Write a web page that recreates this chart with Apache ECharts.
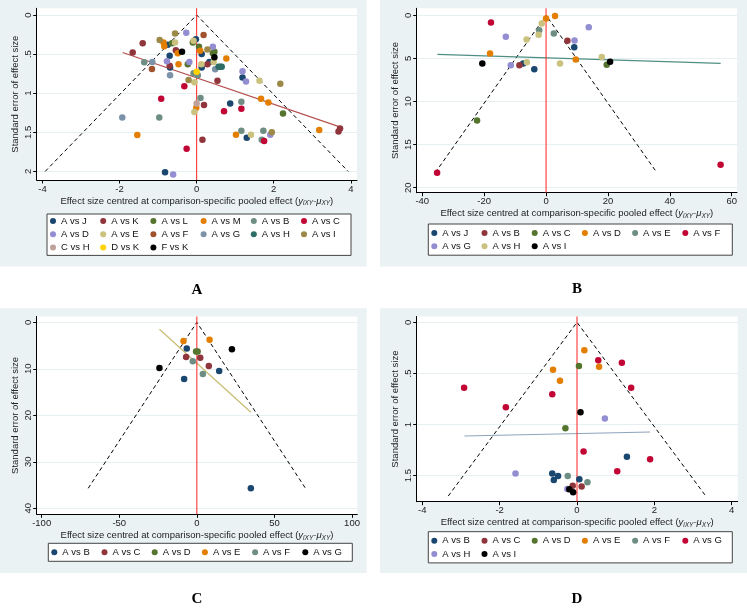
<!DOCTYPE html>
<html>
<head>
<meta charset="utf-8">
<script src="https://cdn.jsdelivr.net/npm/echarts@6.0.0/dist/echarts.min.js"></script>
<style>
  html, body { margin: 0; padding: 0; background: #fff; }
  #display { width: 747px; height: 611px; }
</style>
</head>
<body>
<div id="display"></div>
<script>
// ---- data: [effect centred, standard error] ----

// panel A
var namesA = ['A vs J', 'A vs K', 'A vs L', 'A vs M', 'A vs B', 'A vs C', 'A vs D', 'A vs E', 'A vs F', 'A vs G', 'A vs H', 'A vs I', 'C vs H', 'D vs K', 'F vs K'];
var a_AJ = [[-0.02, 0.31], [-0.75, 0.38], [-0.70, 0.52], [0.13, 0.50], [-0.69, 0.67], [0.33, 0.60], [0.13, 0.67], [1.19, 0.80], [0.87, 1.13], [1.30, 1.57], [-0.82, 2.01]];
var a_AK = [[-1.40, 0.36], [-0.54, 0.45], [-1.66, 0.48], [-0.70, 0.65], [0.28, 0.63], [0.54, 0.84], [0.19, 1.15], [0.15, 1.595], [3.68, 1.49], [3.72, 1.45]];
var a_AL = [[-0.64, 0.36], [-0.10, 0.35], [0.06, 0.405], [0.42, 0.49], [0.46, 0.47], [-0.23, 0.63], [2.24, 1.26]];
var a_AM = [[-0.86, 0.35], [-0.84, 0.40], [-0.49, 0.49], [0.09, 0.456], [0.77, 0.555], [-0.47, 0.63], [-0.01, 1.185], [1.67, 1.07], [1.86, 1.12], [-1.54, 1.535], [1.02, 1.53], [3.18, 1.47]];
var a_AB = [[-1.36, 0.605], [-0.08, 0.745], [0.03, 0.77], [0.10, 1.06], [1.16, 1.11], [-0.97, 1.31], [1.16, 1.48], [1.73, 1.48], [1.69, 1.595]];
var a_AC = [[-0.32, 0.91], [-0.92, 1.07], [1.16, 1.20], [0.71, 1.23], [1.75, 1.61], [-0.26, 1.71]];
var a_AD = [[-0.27, 0.226], [0.42, 0.405], [-0.77, 0.59], [-0.19, 0.60], [1.19, 0.72], [1.28, 0.85], [1.91, 1.53], [-0.61, 2.04]];
var a_AE = [[-0.56, 0.35], [-0.08, 0.33], [0.12, 0.63], [0.44, 0.60], [-0.06, 0.86], [1.63, 0.84], [-0.06, 1.24], [1.41, 1.53]];
var a_AF = [[0.18, 0.256], [-1.16, 0.69]];
var a_AG = [[-1.15, 0.60], [0.48, 0.695], [-0.69, 0.77], [-1.93, 1.31]];
var a_AH = [[0.57, 0.66], [0.62, 0.66], [0.65, 0.66]];
var a_AI = [[-0.56, 0.235], [-0.96, 0.32], [0.28, 0.44], [-0.21, 0.83], [2.17, 0.88], [1.95, 1.50]];
var a_CH = [[0.0, 1.13]];
var a_DK = [[0.0, 0.725]];
var a_FK = [[-0.38, 0.47], [0.46, 0.54]];
var funnelA = [[-3.93, 2.0], [0, 0], [3.93, 2.0]];
var fitA = [[-1.92, 0.48], [3.77, 1.44]];

// panel B
var namesB = ['A vs J', 'A vs B', 'A vs C', 'A vs D', 'A vs E', 'A vs F', 'A vs G', 'A vs H', 'A vs I'];
var b_AJ = [[9.1, 3.7], [-7.4, 5.58], [-3.8, 6.27]];
var b_AB = [[6.9, 2.96], [-8.6, 5.81]];
var b_AC = [[19.6, 5.73], [-22.3, 12.2]];
var b_AD = [[0.0, 0.38], [2.9, 0.08], [-18.1, 4.42], [9.6, 5.12]];
var b_AE = [[-2.2, 1.73], [2.5, 2.1]];
var b_AF = [[-17.8, 0.85], [-35.2, 18.27], [56.4, 17.35]];
var b_AG = [[-13.0, 2.5], [13.8, 1.38], [9.2, 2.92], [-11.4, 5.81]];
var b_AH = [[-1.4, 0.96], [-2.4, 2.27], [-6.3, 2.8], [18.0, 4.85], [-6.2, 5.46], [4.5, 5.58]];
var b_AI = [[20.7, 5.38], [-20.6, 5.58]];
var funnelB = [[-35.8, 18.25], [0, 0], [35.8, 18.25]];
var fitB = [[-35.1, 4.54], [56.4, 5.58]];

// panel C
var namesC = ['A vs B', 'A vs C', 'A vs D', 'A vs E', 'A vs F', 'A vs G'];
var c_AB = [[-6.5, 5.66], [14.4, 10.47], [-8.2, 12.2], [34.8, 35.7]];
var c_AC = [[-6.9, 7.46], [2.2, 7.6], [7.7, 9.4]];
var c_AD = [[-0.5, 6.3], [0.5, 6.3]];
var c_AE = [[-8.6, 4.0], [8.2, 3.73]];
var c_AF = [[-2.6, 8.4], [3.9, 11.1]];
var c_AG = [[22.6, 5.8], [-24.1, 9.82]];
var funnelC = [[-70, 35.7], [0, 0], [70, 35.7]];
var fitC = [[-24.1, 1.5], [34.8, 19.35]];

// panel D
var namesD = ['A vs B', 'A vs C', 'A vs D', 'A vs E', 'A vs F', 'A vs G', 'A vs H', 'A vs I'];
var d_AB = [[1.29, 1.314], [-0.64, 1.48], [-0.49, 1.503], [-0.60, 1.542], [0.06, 1.536]];
var d_AC = [[-0.11, 1.60], [0.12, 1.607]];
var d_AD = [[0.05, 0.427], [-0.30, 1.037]];
var d_AE = [[0.19, 0.274], [0.57, 0.434], [-0.62, 0.463], [-0.44, 0.571]];
var d_AF = [[-0.24, 1.503], [0.27, 1.565]];
var d_AG = [[0.55, 0.372], [1.16, 0.395], [1.40, 0.639], [-2.92, 0.639], [-0.64, 0.704], [-1.84, 0.831], [0.17, 1.265], [1.89, 1.34], [1.04, 1.457]];
var d_AH = [[0.72, 0.942], [-1.59, 1.48], [-0.25, 1.63]];
var d_AI = [[0.09, 0.88], [-0.20, 1.634], [-0.10, 1.663]];
var funnelD = [[-3.33, 1.70], [0, 0], [3.33, 1.70]];
var fitD = [[-2.91, 1.112], [1.89, 1.073]];

// tick labels
var xTicksA = [-4, -2, 0, 2, 4];
var yTicksA = [0, 0.5, 1, 1.5, 2];
var xTicksB = [-40, -20, 0, 20, 40, 60];
var yTicksB = [0, 5, 10, 15, 20];
var xTicksC = [-100, -50, 0, 50, 100];
var yTicksC = [0, 10, 20, 30, 40];
var xTicksD = [-4, -2, 0, 2, 4];
var yTicksD = [0, 0.5, 1, 1.5];

// Stata s2color palette
var navy = '#1a476f', maroon = '#90353b', forest = '#55752f', dkorange = '#e37e00',
    teal = '#6e8e84', cranberry = '#c10534', lavender = '#938dd2', khaki = '#cac27e',
    sienna = '#a0522d', emidblue = '#7b92a8', emerald = '#2d6d66', brown = '#9c8847',
    erose = '#bfa19c', gold = '#ffd200', black = '#000000';

var FONT = '"Liberation Sans", Arial, sans-serif';

var panels = [
    {
        key: 'A', names: namesA,
        groups: [a_AJ, a_AK, a_AL, a_AM, a_AB, a_AC, a_AD, a_AE, a_AF, a_AG, a_AH, a_AI, a_CH, a_DK, a_FK],
        colors: [navy, maroon, forest, dkorange, teal, cranberry, lavender, khaki, sienna, emidblue, emerald, brown, erose, gold, black],
        funnel: funnelA, fit: fitA, fitColor: '#b5514f',
        xTicks: xTicksA, yTicks: yTicksA,
        grid: { left: 36.7, top: 8.3, width: 320.3, height: 171.7 },
        x: [-4.15, 4.16], y: [-0.086, 2.11],
        legend: { left: 47, top: 214, padding: [2, 3, 3, 3] }
    },
    {
        key: 'B', names: namesB,
        groups: [b_AJ, b_AB, b_AC, b_AD, b_AE, b_AF, b_AG, b_AH, b_AI],
        colors: [navy, maroon, forest, dkorange, teal, cranberry, lavender, khaki, black],
        funnel: funnelB, fit: fitB, fitColor: '#4f8f82',
        xTicks: xTicksB, yTicks: yTicksB,
        grid: { left: 416.7, top: 8.3, width: 320.3, height: 184.4 },
        x: [-41.8, 61.7], y: [-0.81, 20.58],
        legend: { left: 428.3, top: 224, padding: [4, 3, 4, 3] }
    },
    {
        key: 'C', names: namesC,
        groups: [c_AB, c_AC, c_AD, c_AE, c_AF, c_AG],
        colors: [navy, maroon, forest, dkorange, teal, black],
        funnel: funnelC, fit: fitC, fitColor: '#c8bc72',
        xTicks: xTicksC, yTicks: yTicksC,
        grid: { left: 36.7, top: 316.5, width: 320.6, height: 197.8 },
        x: [-103.2, 103.4], y: [-1.25, 41.3],
        legend: { left: 48.3, top: 543.3, padding: [4, 3, 4, 3] }
    },
    {
        key: 'D', names: namesD,
        groups: [d_AB, d_AC, d_AD, d_AE, d_AF, d_AG, d_AH, d_AI],
        colors: [navy, maroon, forest, dkorange, teal, cranberry, lavender, black],
        funnel: funnelD, fit: fitD, fitColor: '#8ea4bc',
        xTicks: xTicksD, yTicks: yTicksD,
        grid: { left: 416.7, top: 316.5, width: 321, height: 185.2 },
        x: [-4.145, 4.155], y: [-0.057, 1.755],
        legend: { left: 428.3, top: 531.7, padding: [4, 3, 4, 3] }
    }
];

// ".5" instead of "0.5", the way Stata writes it
function tickText(v) {
    var s = String(v);
    if (v > 0 && v < 1) s = s.substring(1);
    return s;
}

var grids = [], xAxes = [], yAxes = [], legends = [], series = [];

panels.forEach(function (p, gi) {
    grids.push(Object.assign({ show: true, backgroundColor: '#ffffff', borderWidth: 0 }, p.grid));

    xAxes.push({
        gridIndex: gi, type: 'value', min: p.x[0], max: p.x[1],
        axisLine: { show: true, onZero: false, lineStyle: { color: '#000', width: 1 } },
        axisTick: { show: true, length: 3.5, customValues: p.xTicks, lineStyle: { color: '#000' } },
        axisLabel: { customValues: p.xTicks, margin: 4, fontSize: 9.5, color: '#222', fontFamily: FONT, formatter: tickText },
        splitLine: { show: false },
        name: 'Effect size centred at comparison-specific pooled effect ({it|y}{sub|iXY}{it|-μ}{sub|XY})',
        nameLocation: 'middle', nameGap: 14,
        nameTextStyle: {
            fontSize: 9.5, color: '#222', fontFamily: FONT, lineHeight: 12,
            rich: {
                it: { fontSize: 9.5, fontStyle: 'italic', color: '#222', fontFamily: FONT },
                sub: { fontSize: 6.5, fontStyle: 'italic', color: '#222', fontFamily: FONT, verticalAlign: 'bottom', lineHeight: 10 }
            }
        }
    });

    yAxes.push({
        gridIndex: gi, type: 'value', inverse: true, min: p.y[0], max: p.y[1],
        axisLine: { show: true, onZero: false, lineStyle: { color: '#000', width: 1 } },
        axisTick: { show: true, length: 3.5, customValues: p.yTicks, lineStyle: { color: '#000' } },
        axisLabel: { customValues: p.yTicks, rotate: 90, margin: 3, fontSize: 9.5, color: '#222', fontFamily: FONT, formatter: tickText },
        splitLine: { show: true, lineStyle: { color: '#e6eff1', width: 1 } },
        name: 'Standard error of effect size',
        nameLocation: 'middle', nameRotate: 90, nameGap: 16,
        nameTextStyle: { fontSize: 9.5, color: '#222', fontFamily: FONT }
    });

    // the funnel, the regression line and the red zero line
    series.push({
        type: 'line', xAxisIndex: gi, yAxisIndex: gi, data: p.funnel,
        symbol: 'none', silent: true, z: 2,
        lineStyle: { color: '#000', width: 1, type: [4, 3] }
    });
    series.push({
        type: 'line', xAxisIndex: gi, yAxisIndex: gi, data: p.fit,
        symbol: 'none', silent: true, z: 2,
        lineStyle: { color: p.fitColor, width: 1.2 }
    });
    series.push({
        type: 'line', xAxisIndex: gi, yAxisIndex: gi, data: [[0, p.y[0]], [0, p.y[1]]],
        symbol: 'none', silent: true, z: 3,
        lineStyle: { color: '#ff2222', width: 1 }
    });

    var legendNames = [];
    p.groups.forEach(function (g, i) {
        var nm = p.key + '|' + p.names[i];
        legendNames.push(nm);
        series.push({
            type: 'scatter', name: nm, xAxisIndex: gi, yAxisIndex: gi, data: g,
            symbol: 'circle', symbolSize: 6.5, z: 4,
            itemStyle: { color: p.colors[i], opacity: 1 },
            emphasis: { disabled: true }
        });
    });

    legends.push({
        data: legendNames, left: p.legend.left, top: p.legend.top, width: 320,
        orient: 'horizontal', icon: 'circle', itemWidth: 6, itemHeight: 6, itemGap: 3.2,
        padding: p.legend.padding, borderColor: '#444', borderWidth: 1, backgroundColor: '#ffffff',
        selectedMode: false,
        textStyle: { fontSize: 9.5, color: '#111', fontFamily: FONT, width: 36, overflow: 'truncate', lineHeight: 10 },
        formatter: function (name) { return name.split('|')[1]; }
    });
});

// grey panel backgrounds and the bold letters under each panel
var panelBg = '#eaf2f3';
var graphics = [
    { type: 'rect', z: -10, shape: { x: 0, y: 0, width: 366.7, height: 266.5 }, style: { fill: panelBg } },
    { type: 'rect', z: -10, shape: { x: 380, y: 0, width: 367, height: 266.5 }, style: { fill: panelBg } },
    { type: 'rect', z: -10, shape: { x: 0, y: 308.3, width: 366.7, height: 264.7 }, style: { fill: panelBg } },
    { type: 'rect', z: -10, shape: { x: 380, y: 308.3, width: 367, height: 264.7 }, style: { fill: panelBg } }
];
[['A', 197, 290], ['B', 577, 289], ['C', 197, 599], ['D', 577, 599]].forEach(function (t) {
    graphics.push({
        type: 'text', x: t[1], y: t[2], z: 5,
        style: { text: t[0], fontSize: 15, fontWeight: 'bold', fontFamily: '"Liberation Serif", "Times New Roman", serif', fill: '#000', align: 'center', verticalAlign: 'middle' }
    });
});

var myDisplay = echarts.init(document.getElementById('display'), null, { renderer: 'canvas' });
myDisplay.setOption({
    animation: false,
    backgroundColor: '#ffffff',
    graphic: graphics,
    grid: grids,
    xAxis: xAxes,
    yAxis: yAxes,
    legend: legends,
    series: series
});
</script>
</body>
</html>
